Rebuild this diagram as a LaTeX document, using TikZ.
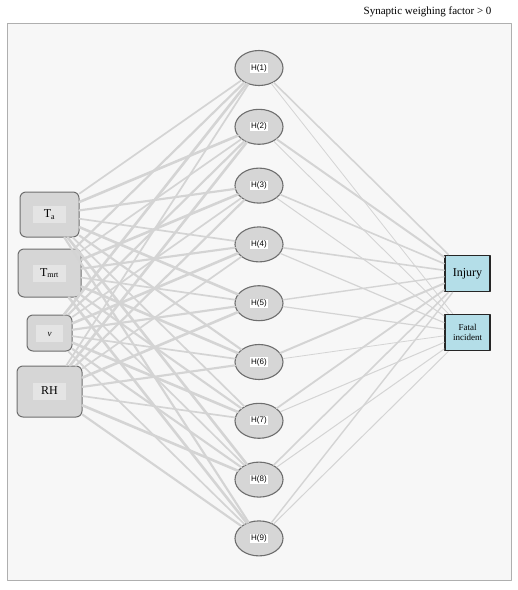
\documentclass[tikz,border=0pt]{standalone}
\usepackage{fontspec}
\setmainfont{Liberation Serif}
\setsansfont{Liberation Sans}
\usepackage{tikz}
\usetikzlibrary{calc,positioning,shapes.geometric}
\definecolor{netback}{RGB}{247,247,247}
\definecolor{netframe}{RGB}{175,175,175}
\definecolor{netwire}{RGB}{212,212,212}
\definecolor{netnode}{RGB}{214,214,214}
\definecolor{netrim}{RGB}{110,110,110}
\definecolor{netlab}{RGB}{228,228,228}
\definecolor{netout}{RGB}{180,222,232}
\newcommand{\inlab}[1]{{\setlength\fboxsep{2.5pt}\colorbox{netlab}{\makebox[28pt]{\rule[-3pt]{0pt}{12pt}#1}}}}
\newcommand{\hidlab}[1]{{\setlength\fboxsep{0.8pt}\colorbox{white}{\sffamily\fontsize{8}{9}\selectfont #1}}}
\tikzset{
 inbox/.style={draw=netrim,fill=netnode,rounded corners=6pt,line width=1pt,inner sep=0pt,
  font=\fontsize{12}{13}\selectfont},
 hidden/.style={ellipse,draw=netrim,fill=netnode,line width=1.1pt,inner sep=0pt,
  minimum width=48pt,minimum height=35pt},
 outbox/.style={draw=black!85,fill=netout,line width=1.8pt,inner sep=0pt,
  minimum width=45pt,minimum height=36pt,align=center},
 wire/.style={netwire,line cap=round}
}

\begin{document}
\begin{tikzpicture}[x=1pt,y=-1pt,line join=round]
% Siec: 4 wejscia, 9 neuronow ukrytych, 2 wyjscia.
\useasboundingbox (0,0) rectangle (518,590);
\fill[white] (0,0) rectangle (518,590);
\fill[netback] (7,23) rectangle (511,580);
\draw[netframe,line width=.8pt] (7,23) rectangle (511,580);
\node[font=\fontsize{11}{12}\selectfont,anchor=east] at (495,12)
 {Synaptic weighing factor > 0};
\node[inbox,minimum width=59pt,minimum height=45pt] (in1) at (49.5,214.5)
 {\inlab{T\textsubscript{a}}};
\node[inbox,minimum width=63pt,minimum height=48pt] (in2) at (49.5,273)
 {\inlab{T\textsubscript{mrt}}};
\node[inbox,minimum width=45pt,minimum height=36pt] (in3) at (49.5,333)
 {{\setlength\fboxsep{2.5pt}\colorbox{netlab}{\makebox[22pt]{\rule[-3pt]{0pt}{12pt}\small\textit{v}}}}};
\node[inbox,minimum width=65pt,minimum height=51pt] (in4) at (49.5,391.5)
 {\inlab{RH}};
\foreach \j in {1,...,9}
 \node[hidden] (h\j) at (259,{68+58.8*(\j-1)}) {\hidlab{H(\j)}};
\node[outbox,font=\fontsize{12}{13}\selectfont] (inj) at (467.5,273.5) {Injury};
\node[outbox,font=\fontsize{9}{10}\selectfont] (fat) at (467.5,332.5) {Fatal\\incident};
\foreach \i in {1,...,4}
 \foreach \j in {1,...,9} {
  \pgfmathsetmacro\lw{1.7+0.45*mod(\i+2*\j,3)}
  \draw[wire,line width=\lw pt] (in\i) -- (h\j);
 }
\foreach \j/\a/\b in {1/1.6/0.8,2/2.0/0.9,3/1.6/1.0,4/1.6/1.2,5/1.4/1.2,
 6/2.0/0.8,7/1.8/1.0,8/1.6/1.0,9/1.4/1.0} {
 \draw[wire,line width=\a pt] (h\j) -- (inj);
 \draw[wire,line width=\b pt] (h\j) -- (fat);
}
\end{tikzpicture}
\end{document}
